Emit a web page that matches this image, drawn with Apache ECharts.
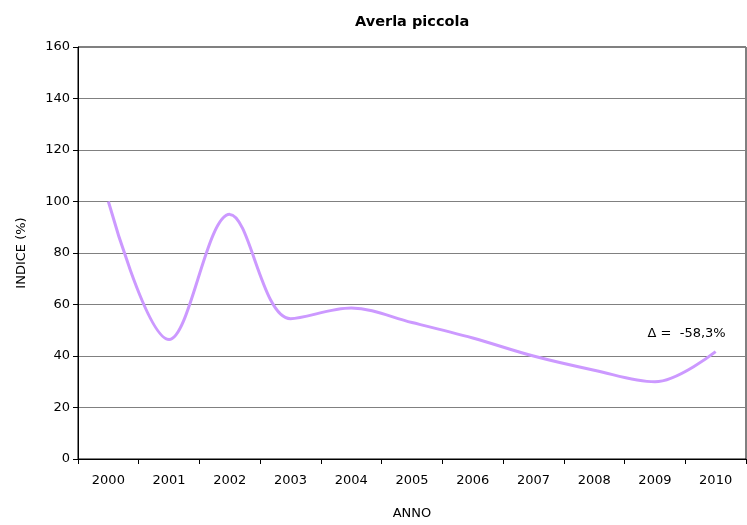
<!DOCTYPE html>
<html><head><meta charset="utf-8">
<script src="https://cdn.jsdelivr.net/npm/echarts@6/dist/echarts.min.js"></script>
<style>html,body{margin:0;padding:0;background:#fff}#c{width:747px;height:525px}</style>
</head><body><div id="c"></div>
<script>
const categories = ['2000','2001','2002','2003','2004','2005','2006','2007','2008','2009','2010'];
const values = [100, 46.4, 95, 54.5, 58.6, 53, 47, 40, 34.5, 30, 41.7];
const yTicks = {min: 0, max: 160, interval: 20};
const annotation = 'Δ =  -58,3%';

const chart = echarts.init(document.getElementById('c'), null, {renderer: 'canvas'});
const font = '"DejaVu Sans", Verdana, sans-serif';
const data = values.map((v, i) => i === values.length - 1 ? {
  value: v,
  label: {show: true, formatter: annotation, position: 'top', offset: [-29, -6],
          color: '#000', fontFamily: font, fontSize: 13}
} : v);
chart.setOption({
  animation: false,
  title: {text: 'Averla piccola', left: 350, top: 10,
    textStyle: {fontFamily: font, fontSize: 14.5, fontWeight: 'bold', color: '#000'}},
  grid: {left: 78, right: 1, top: 47, bottom: 63, show: true, borderColor: '#000', borderWidth: 1},
  xAxis: {
    type: 'category', data: categories, boundaryGap: true,
    name: 'ANNO', nameLocation: 'middle', nameGap: 48,
    nameTextStyle: {fontFamily: font, fontSize: 13, color: '#000'},
    axisLine: {lineStyle: {color: '#000', width: 1}},
    axisTick: {show: true, alignWithLabel: false, length: 5, lineStyle: {color: '#000'}},
    axisLabel: {fontFamily: font, fontSize: 13, color: '#000', margin: 15},
    splitLine: {show: false}
  },
  yAxis: {
    type: 'value', min: yTicks.min, max: yTicks.max, interval: yTicks.interval,
    name: 'INDICE (%)', nameLocation: 'middle', nameGap: 50,
    nameTextStyle: {fontFamily: font, fontSize: 13, color: '#000'},
    axisLine: {show: true, lineStyle: {color: '#000', width: 1}},
    axisTick: {show: true, length: 5, lineStyle: {color: '#000'}},
    axisLabel: {fontFamily: font, fontSize: 13, color: '#000', margin: 8},
    splitLine: {show: true, lineStyle: {color: '#808080', width: 1}}
  },
  series: [{
    type: 'line', data: data, smooth: 0.35, smoothConstraint: false,
    symbol: 'circle', symbolSize: 0, showSymbol: true,
    lineStyle: {color: '#CC99FF', width: 3},
    itemStyle: {color: '#CC99FF'}
  }]
});
</script></body></html>
